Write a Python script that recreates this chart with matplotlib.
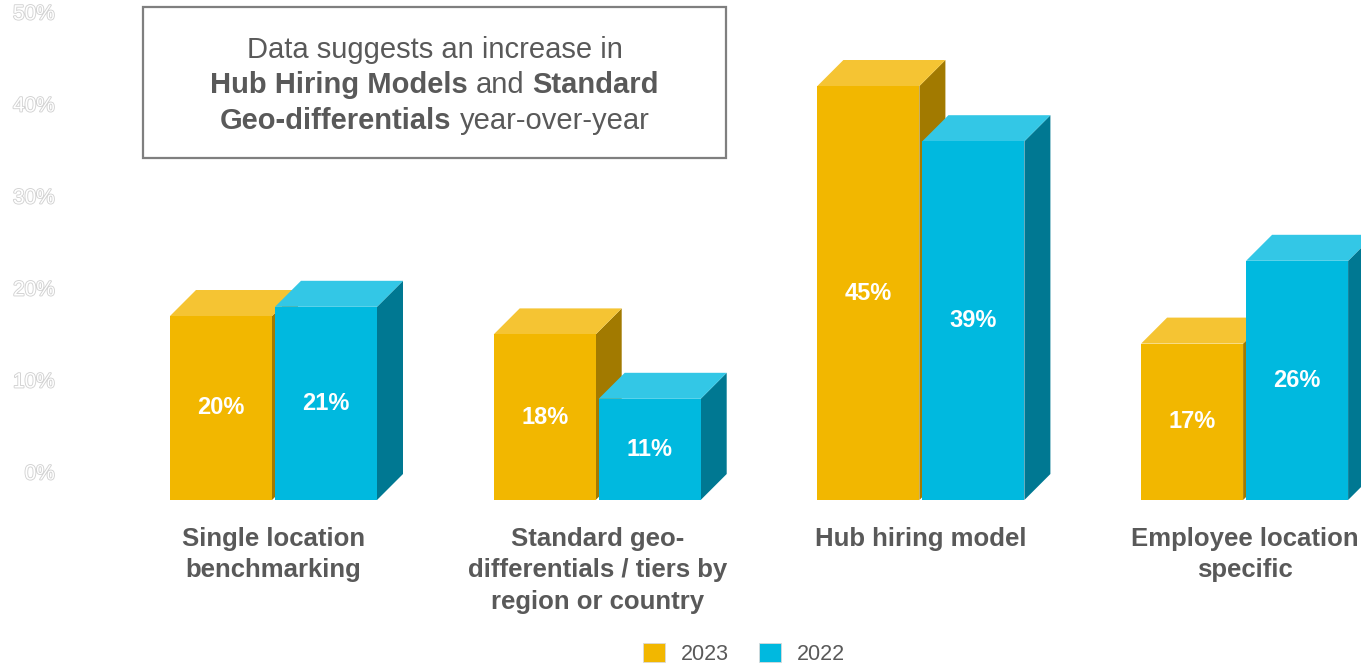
import matplotlib
matplotlib.use("Agg")
import matplotlib.pyplot as plt
from matplotlib.patches import Rectangle, Polygon, Patch
import matplotlib.patheffects as pe

plt.rcParams['font.family'] = ['Liberation Sans', 'DejaVu Sans']

# ---- data -------------------------------------------------------------
categories = [
    "Single location\nbenchmarking",
    "Standard geo-\ndifferentials / tiers by\nregion or country",
    "Hub hiring model",
    "Employee location\nspecific",
]
series_names = ["2023", "2022"]
values_2023 = [20, 18, 45, 17]
values_2022 = [21, 11, 39, 26]
y_ticks = [0, 10, 20, 30, 40, 50]
y_tick_labels = ["0%", "10%", "20%", "30%", "40%", "50%"]

# ---- styling ----------------------------------------------------------
TEXT = "#595959"
face_colors = {
    "2023": dict(front="#F2B700", top="#F5C433", side="#A27A00"),
    "2022": dict(front="#00B9DF", top="#33C7E6", side="#007892"),
}

W_PX, H_PX = 1361, 664
fig = plt.figure(figsize=(W_PX / 100, H_PX / 100), dpi=100)
ax = fig.add_axes([0, 0, 1, 1])
ax.set_axis_off()

# axis scaling: one x unit = one category slot, y in percent
SLOT_PX = 323.7
FIRST_PX = 273.5
PCT_PX = 9.2
BASE_PX = 500
ax.set_xlim(-FIRST_PX / SLOT_PX, (W_PX - FIRST_PX) / SLOT_PX)
ax.set_ylim(-(H_PX - BASE_PX) / PCT_PX, BASE_PX / PCT_PX)

bar_w = 102 / SLOT_PX
gap = 3 / SLOT_PX
depth_x = 26 / SLOT_PX
depth_y = 26 / PCT_PX


def draw_bar(x0, v, cols):
    ax.add_patch(Polygon([(x0 + bar_w, 0), (x0 + bar_w + depth_x, depth_y),
                          (x0 + bar_w + depth_x, v + depth_y), (x0 + bar_w, v)],
                         closed=True, facecolor=cols["side"], edgecolor="none"))
    ax.add_patch(Polygon([(x0, v), (x0 + depth_x, v + depth_y),
                          (x0 + bar_w + depth_x, v + depth_y), (x0 + bar_w, v)],
                         closed=True, facecolor=cols["top"], edgecolor="none"))
    ax.add_patch(Rectangle((x0, 0), bar_w, v, facecolor=cols["front"],
                           edgecolor="none"))
    ax.text(x0 + bar_w / 2, v / 2, f"{v}%", ha="center", va="center",
            color="white", fontsize=17, fontweight="bold")


for i, (a, b) in enumerate(zip(values_2023, values_2022)):
    x_a = i - gap / 2 - bar_w
    x_b = i + gap / 2
    draw_bar(x_a, a, face_colors["2023"])
    draw_bar(x_b, b, face_colors["2022"])
    ax.text(i, -(527 - BASE_PX) / PCT_PX, categories[i], ha="center", va="top",
            color=TEXT, fontsize=18.5, fontweight="bold", linespacing=1.39)

# hollow y tick labels on the back wall
for t, lab in zip(y_ticks, y_tick_labels):
    ax.text((55 - FIRST_PX) / SLOT_PX, t + depth_y, lab, ha="right", va="center",
            color="white", fontsize=15,
            path_effects=[pe.withStroke(linewidth=1.3, foreground="#d2d2d2")])

# ---- callout box --------------------------------------------------------
box_l, box_r, box_t, box_b = 143, 726, 7, 158
fig.patches.append(Rectangle((box_l / W_PX, 1 - box_b / H_PX),
                             (box_r - box_l) / W_PX, (box_b - box_t) / H_PX,
                             transform=fig.transFigure, facecolor="white",
                             edgecolor="#7f7f7f", linewidth=1.6, zorder=5))

lines = [
    [("Data suggests an increase in", "normal")],
    [("Hub Hiring Models", "bold"), (" ", "normal"), ("and", "normal"),
     (" ", "normal"), ("Standard", "bold")],
    [("Geo-differentials", "bold"), (" ", "normal"), ("year-over-year", "normal")],
]
line_y_px = [50, 85, 121]
renderer = fig.canvas.get_renderer()
cx = (box_l + box_r) / 2


def text_width(s, weight):
    t = fig.text(0, 0, s, fontsize=21, fontweight=weight)
    w = t.get_window_extent(renderer).width
    t.remove()
    return w


space_w = text_width("x x", "normal") - text_width("xx", "normal")
for segs, ypx in zip(lines, line_y_px):
    widths = [space_w if s == " " else text_width(s, w) for s, w in segs]
    x = cx - sum(widths) / 2
    for (s, w), wd in zip(segs, widths):
        if s != " ":
            fig.text(x / W_PX, 1 - ypx / H_PX, s, fontsize=21, fontweight=w,
                     color=TEXT, ha="left", va="center", zorder=6)
        x += wd

# ---- legend -------------------------------------------------------------
handles = [Patch(facecolor=face_colors[n]["front"], edgecolor="#d9d9d9",
                 linewidth=0.6, label=n) for n in series_names]
fig.legend(handles=handles, loc="center", ncol=2, frameon=False,
           bbox_to_anchor=(744 / W_PX, 1 - 654 / H_PX), fontsize=15.5,
           handlelength=1.0, handleheight=1.0, handletextpad=0.75,
           columnspacing=1.4, labelcolor=TEXT)

fig.savefig("out.png", dpi=100, facecolor="white")
